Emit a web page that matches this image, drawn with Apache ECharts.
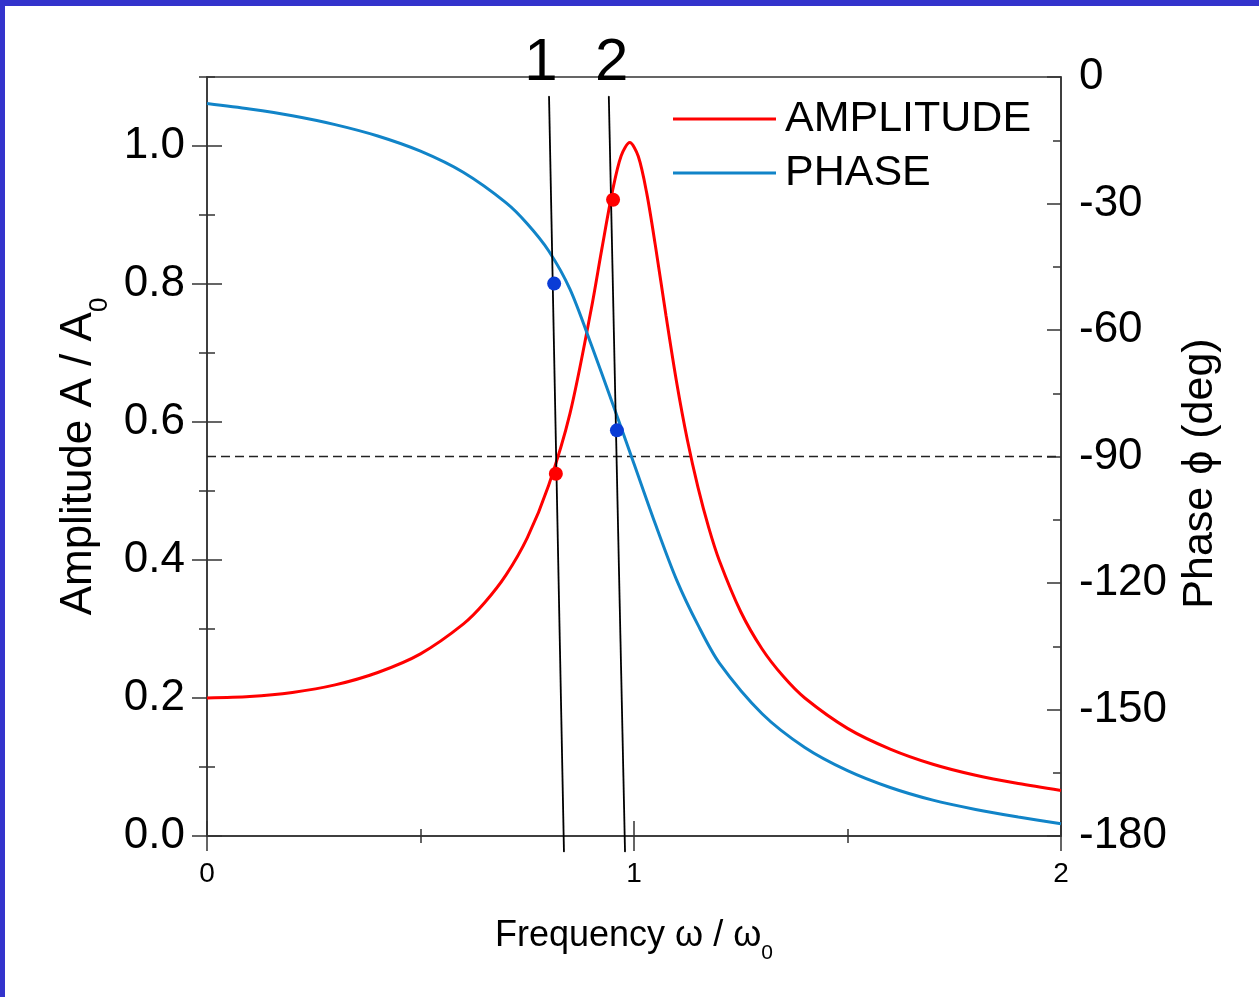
<!DOCTYPE html>
<html><head><meta charset="utf-8">
<script src="https://cdn.jsdelivr.net/npm/echarts@6.0.0/dist/echarts.min.js"></script>
<style>
html,body{margin:0;padding:0;background:#fff;}
#wrap{position:relative;width:1259px;height:997px;overflow:hidden;background:#fff;}
#chart{position:absolute;left:0;top:0;width:1259px;height:997px;}
.bl{position:absolute;left:0;top:0;width:5px;height:997px;background:#3333cc;}
.bt{position:absolute;left:0;top:0;width:1259px;height:6px;background:#3333cc;}
</style></head>
<body><div id="wrap"><div id="chart"></div><div class="bl"></div><div class="bt"></div></div>
<script>
// ---- data ----
const ampFreq = [0, 0.1, 0.2, 0.3, 0.4, 0.5, 0.6, 0.65, 0.7, 0.75, 0.8, 0.85, 0.9, 0.925, 0.95, 0.97, 0.99, 1.01, 1.03, 1.05, 1.075, 1.1, 1.125, 1.15, 1.175, 1.2, 1.25, 1.3, 1.35, 1.4, 1.5, 1.6, 1.7, 1.8, 1.9, 2.0];
const amplitude = [0.200, 0.202, 0.208, 0.219, 0.237, 0.264, 0.307, 0.338, 0.378, 0.432, 0.508, 0.612, 0.764, 0.852, 0.936, 0.986, 1.005, 0.985, 0.931, 0.856, 0.754, 0.657, 0.574, 0.505, 0.447, 0.399, 0.325, 0.271, 0.231, 0.200, 0.156, 0.126, 0.104, 0.088, 0.076, 0.066];
const phaseFreq = [0, 0.1, 0.2, 0.3, 0.4, 0.5, 0.6, 0.7, 0.75, 0.8, 0.85, 0.9, 0.95, 1.0, 1.05, 1.1, 1.15, 1.2, 1.3, 1.4, 1.5, 1.6, 1.7, 1.8, 1.9, 2.0];
const phase = [-6.3, -7.6, -9.2, -11.3, -14.0, -17.6, -22.6, -29.8, -34.8, -41.2, -50.3, -63.5, -77.5, -91.7, -106.0, -119.3, -130.0, -139.0, -151.0, -159.0, -164.5, -168.5, -171.5, -173.7, -175.5, -177.1];
const ampTicks = [0, 0.2, 0.4, 0.6, 0.8, 1.0];
const ampMinorTicks = [0.1, 0.3, 0.5, 0.7, 0.9, 1.1];
const refLevel = [[0, 0.55], [2, 0.55]];
const marker1 = [[0.801, 1.072], [0.836, -0.023]];
const marker2 = [[0.941, 1.072], [0.979, -0.023]];
const markerNames = ['1', '2'];
const ampDots = [[0.817, 0.525], [0.951, 0.922]];
const phaseDots = [[0.813, -49.0], [0.960, -83.8]];

const FONT = '"Liberation Sans", Arial, Helvetica, sans-serif';
const AX = { color: '#333', width: 1.5 };
const RED = '#ff0000';
const BLUE = '#1184c8';

const chart = echarts.init(document.getElementById('chart'), null, { renderer: 'canvas' });

function leftAux(len, inside, vals) {
  return {
    type: 'value', min: 0, max: 1.1, position: 'left', offset: 0,
    axisLine: { show: false, onZero: false },
    axisTick: { show: true, inside: inside, length: len, customValues: vals, lineStyle: AX },
    axisLabel: { show: false }, splitLine: { show: false }
  };
}

function markerSeries(pts, name, dx) {
  return {
    type: 'line', xAxisIndex: 0, yAxisIndex: 0, clip: false, silent: true,
    symbol: 'circle', symbolSize: 1, itemStyle: { color: '#000' },
    lineStyle: { color: '#000', width: 1.8 }, z: 6,
    data: [
      { value: pts[0], label: { show: true, formatter: name, position: 'top', distance: 2, offset: [dx, 0], fontSize: 60, fontFamily: FONT, color: '#000' } },
      { value: pts[1] }
    ]
  };
}

chart.setOption({
  animation: false,
  backgroundColor: '#fff',
  grid: { left: 207, right: 198, top: 77, bottom: 161, show: true, borderColor: '#333', borderWidth: 1.5, backgroundColor: 'transparent' },
  legend: {
    data: ['AMPLITUDE', 'PHASE'], orient: 'vertical', left: 668, top: 87,
    icon: 'rect', itemWidth: 103, itemHeight: 3, itemGap: 0, selectedMode: false,
    textStyle: { fontSize: 43, fontFamily: FONT, color: '#000', lineHeight: 54, padding: [0, 0, 0, 4] }
  },
  xAxis: [
    {
      type: 'value', min: 0, max: 2, interval: 1, position: 'bottom',
      axisLine: { show: true, onZero: false, lineStyle: AX },
      axisTick: { show: true, length: 15, lineStyle: AX },
      minorTick: { show: true, splitNumber: 2, length: 7, lineStyle: AX },
      splitLine: { show: false }, minorSplitLine: { show: false },
      axisLabel: { fontSize: 28, color: '#000', fontFamily: FONT, margin: 24 },
      name: 'Frequency ω / ω{s|0}', nameLocation: 'middle', nameGap: 82,
      nameTextStyle: { fontSize: 36, color: '#000', fontFamily: FONT, rich: { s: { fontSize: 21, fontFamily: FONT, color: '#000', verticalAlign: 'bottom', padding: [0, 0, -10, 0] } } }
    },
    {
      type: 'value', min: 0, max: 2, interval: 1, position: 'bottom',
      axisLine: { show: false, onZero: false },
      axisTick: { show: true, inside: true, length: 15, lineStyle: AX },
      minorTick: { show: true, splitNumber: 2, length: 7, lineStyle: AX },
      splitLine: { show: false }, axisLabel: { show: false }
    }
  ],
  yAxis: [
    {
      type: 'value', min: 0, max: 1.1, position: 'left',
      axisLine: { show: true, onZero: false, lineStyle: AX },
      axisTick: { show: true, length: 15, customValues: ampTicks, lineStyle: AX },
      axisLabel: { customValues: ampTicks, formatter: v => v.toFixed(1), fontSize: 44, color: '#000', fontFamily: FONT, margin: 22 },
      splitLine: { show: false },
      name: 'Amplitude A / A{s|0}', nameLocation: 'middle', nameRotate: 90, nameGap: 100,
      nameTextStyle: { fontSize: 44, color: '#000', fontFamily: FONT, rich: { s: { fontSize: 26, fontFamily: FONT, color: '#000', verticalAlign: 'bottom', padding: [0, 0, -12, 0] } } }
    },
    {
      type: 'value', min: -180, max: 0, interval: 30, position: 'right',
      axisLine: { show: true, onZero: false, lineStyle: AX },
      axisTick: { show: true, inside: true, length: 14, lineStyle: AX },
      minorTick: { show: true, splitNumber: 2, length: 8, lineStyle: AX },
      axisLabel: { fontSize: 44, color: '#000', fontFamily: FONT, margin: 18 },
      splitLine: { show: false }, minorSplitLine: { show: false },
      name: 'Phase ϕ (deg)', nameLocation: 'middle', nameRotate: 90, nameGap: 118,
      nameTextStyle: { fontSize: 43, color: '#000', fontFamily: FONT, padding: [0, 34, 0, 0] }
    },
    leftAux(15, true, ampTicks),
    leftAux(8, false, ampMinorTicks),
    leftAux(8, true, ampMinorTicks)
  ],
  series: [
    {
      name: 'AMPLITUDE', type: 'line', xAxisIndex: 0, yAxisIndex: 0, smooth: 0.3, symbol: 'none',
      color: RED, lineStyle: { color: RED, width: 3 }, z: 3,
      data: ampFreq.map((f, i) => [f, amplitude[i]])
    },
    {
      name: 'PHASE', type: 'line', xAxisIndex: 0, yAxisIndex: 1, smooth: 0.3, symbol: 'none',
      color: BLUE, lineStyle: { color: BLUE, width: 3 }, z: 3,
      data: phaseFreq.map((f, i) => [f, phase[i]])
    },
    {
      type: 'line', xAxisIndex: 0, yAxisIndex: 0, symbol: 'none', silent: true,
      lineStyle: { color: '#222', width: 1.5, type: [9, 5] }, z: 2,
      data: refLevel
    },
    markerSeries(marker1, markerNames[0], -8),
    markerSeries(marker2, markerNames[1], 3),
    {
      type: 'scatter', xAxisIndex: 0, yAxisIndex: 0, symbolSize: 14, z: 7,
      itemStyle: { color: RED, opacity: 1 }, data: ampDots
    },
    {
      type: 'scatter', xAxisIndex: 0, yAxisIndex: 1, symbolSize: 14, z: 7,
      itemStyle: { color: '#0a3cd6', opacity: 1 }, data: phaseDots
    }
  ]
});
</script>
</body></html>
